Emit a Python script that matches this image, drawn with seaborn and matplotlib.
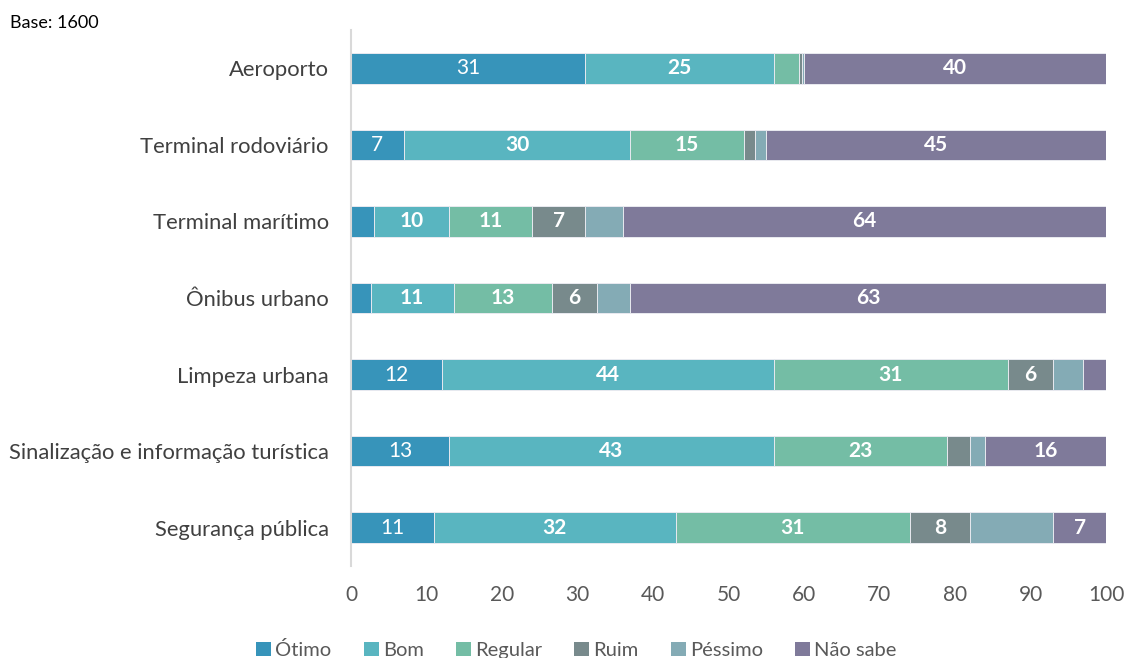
import matplotlib
matplotlib.use("Agg")
import matplotlib.pyplot as plt
from matplotlib.patches import Patch
import numpy as np
import pandas as pd
import seaborn as sns

categories = [
    "Aeroporto",
    "Terminal rodoviário",
    "Terminal marítimo",
    "Ônibus urbano",
    "Limpeza urbana",
    "Sinalização e informação turística",
    "Segurança pública",
]
ratings = ["Ótimo", "Bom", "Regular", "Ruim", "Péssimo", "Não sabe"]

otimo = [31, 7, 3, 2.6, 12, 13, 11]
bom = [25, 30, 10, 11, 44, 43, 32]
regular = [3.4, 15, 11, 13, 31, 23, 31]
ruim = [0.3, 1.5, 7, 6, 6, 3, 8]
pessimo = [0.3, 1.5, 5, 4.4, 4, 2, 11]
nao_sabe = [40, 45, 64, 63, 3, 16, 7]

colors = ["#3794BA", "#59B5C0", "#74BDA5", "#788A8C", "#84ABB5", "#7F7A9A"]

sns.set_theme(style="white")
plt.rcParams["font.family"] = ["Lato", "DejaVu Sans"]

values = np.array([otimo, bom, regular, ruim, pessimo, nao_sabe], dtype=float)
cum = np.cumsum(values, axis=0)

fig = plt.figure(figsize=(11.26, 6.58), dpi=100)
ax = fig.add_axes([351 / 1126, 1 - 566 / 658, 755 / 1126, 536 / 658])

# Stacked bars: draw cumulative totals from the outermost segment inward
for i in range(len(ratings) - 1, -1, -1):
    df = pd.DataFrame({"categoria": categories, "total": cum[i]})
    sns.barplot(data=df, x="total", y="categoria", order=categories,
                color=colors[i], saturation=1, width=0.4, ax=ax,
                edgecolor="#E9EAF0", linewidth=0.7)

# Segment labels
for i, name in enumerate(ratings):
    if name == "Péssimo":
        continue
    for j in range(len(categories)):
        v = values[i, j]
        if v < 6:
            continue
        left = cum[i, j] - v
        ax.text(left + v / 2, j, f"{v:.0f}", ha="center", va="center",
                color="white", fontsize=15,
                fontweight="normal" if name == "Ótimo" else "bold")

ax.set_xlim(0, 100)
ax.set_ylim(len(categories) - 0.5, -0.5)
ax.set_xticks(range(0, 101, 10))
ax.set_xlabel("")
ax.set_ylabel("")
ax.tick_params(axis="x", labelsize=15, colors="#595959", length=0, pad=14)
ax.tick_params(axis="y", labelsize=15.8, colors="#404040", length=0, pad=16)
for s in ["top", "right", "bottom"]:
    ax.spines[s].set_visible(False)
ax.spines["left"].set_color("#D9D9D9")
ax.spines["left"].set_linewidth(1.5)

fig.text(10 / 1126, 1 - 23 / 658, "Base: 1600", fontsize=13, color="black",
         ha="left", va="center")

handles = [Patch(facecolor=c, edgecolor="none") for c in colors]
fig.legend(handles, ratings, loc="center", bbox_to_anchor=(0.512, 1 - 650 / 658),
           ncol=6, frameon=False, fontsize=14.5, handlelength=0.75,
           handleheight=0.75, handletextpad=0.2, columnspacing=1.6,
           labelcolor="#595959")

fig.savefig("out.png", dpi=100)
